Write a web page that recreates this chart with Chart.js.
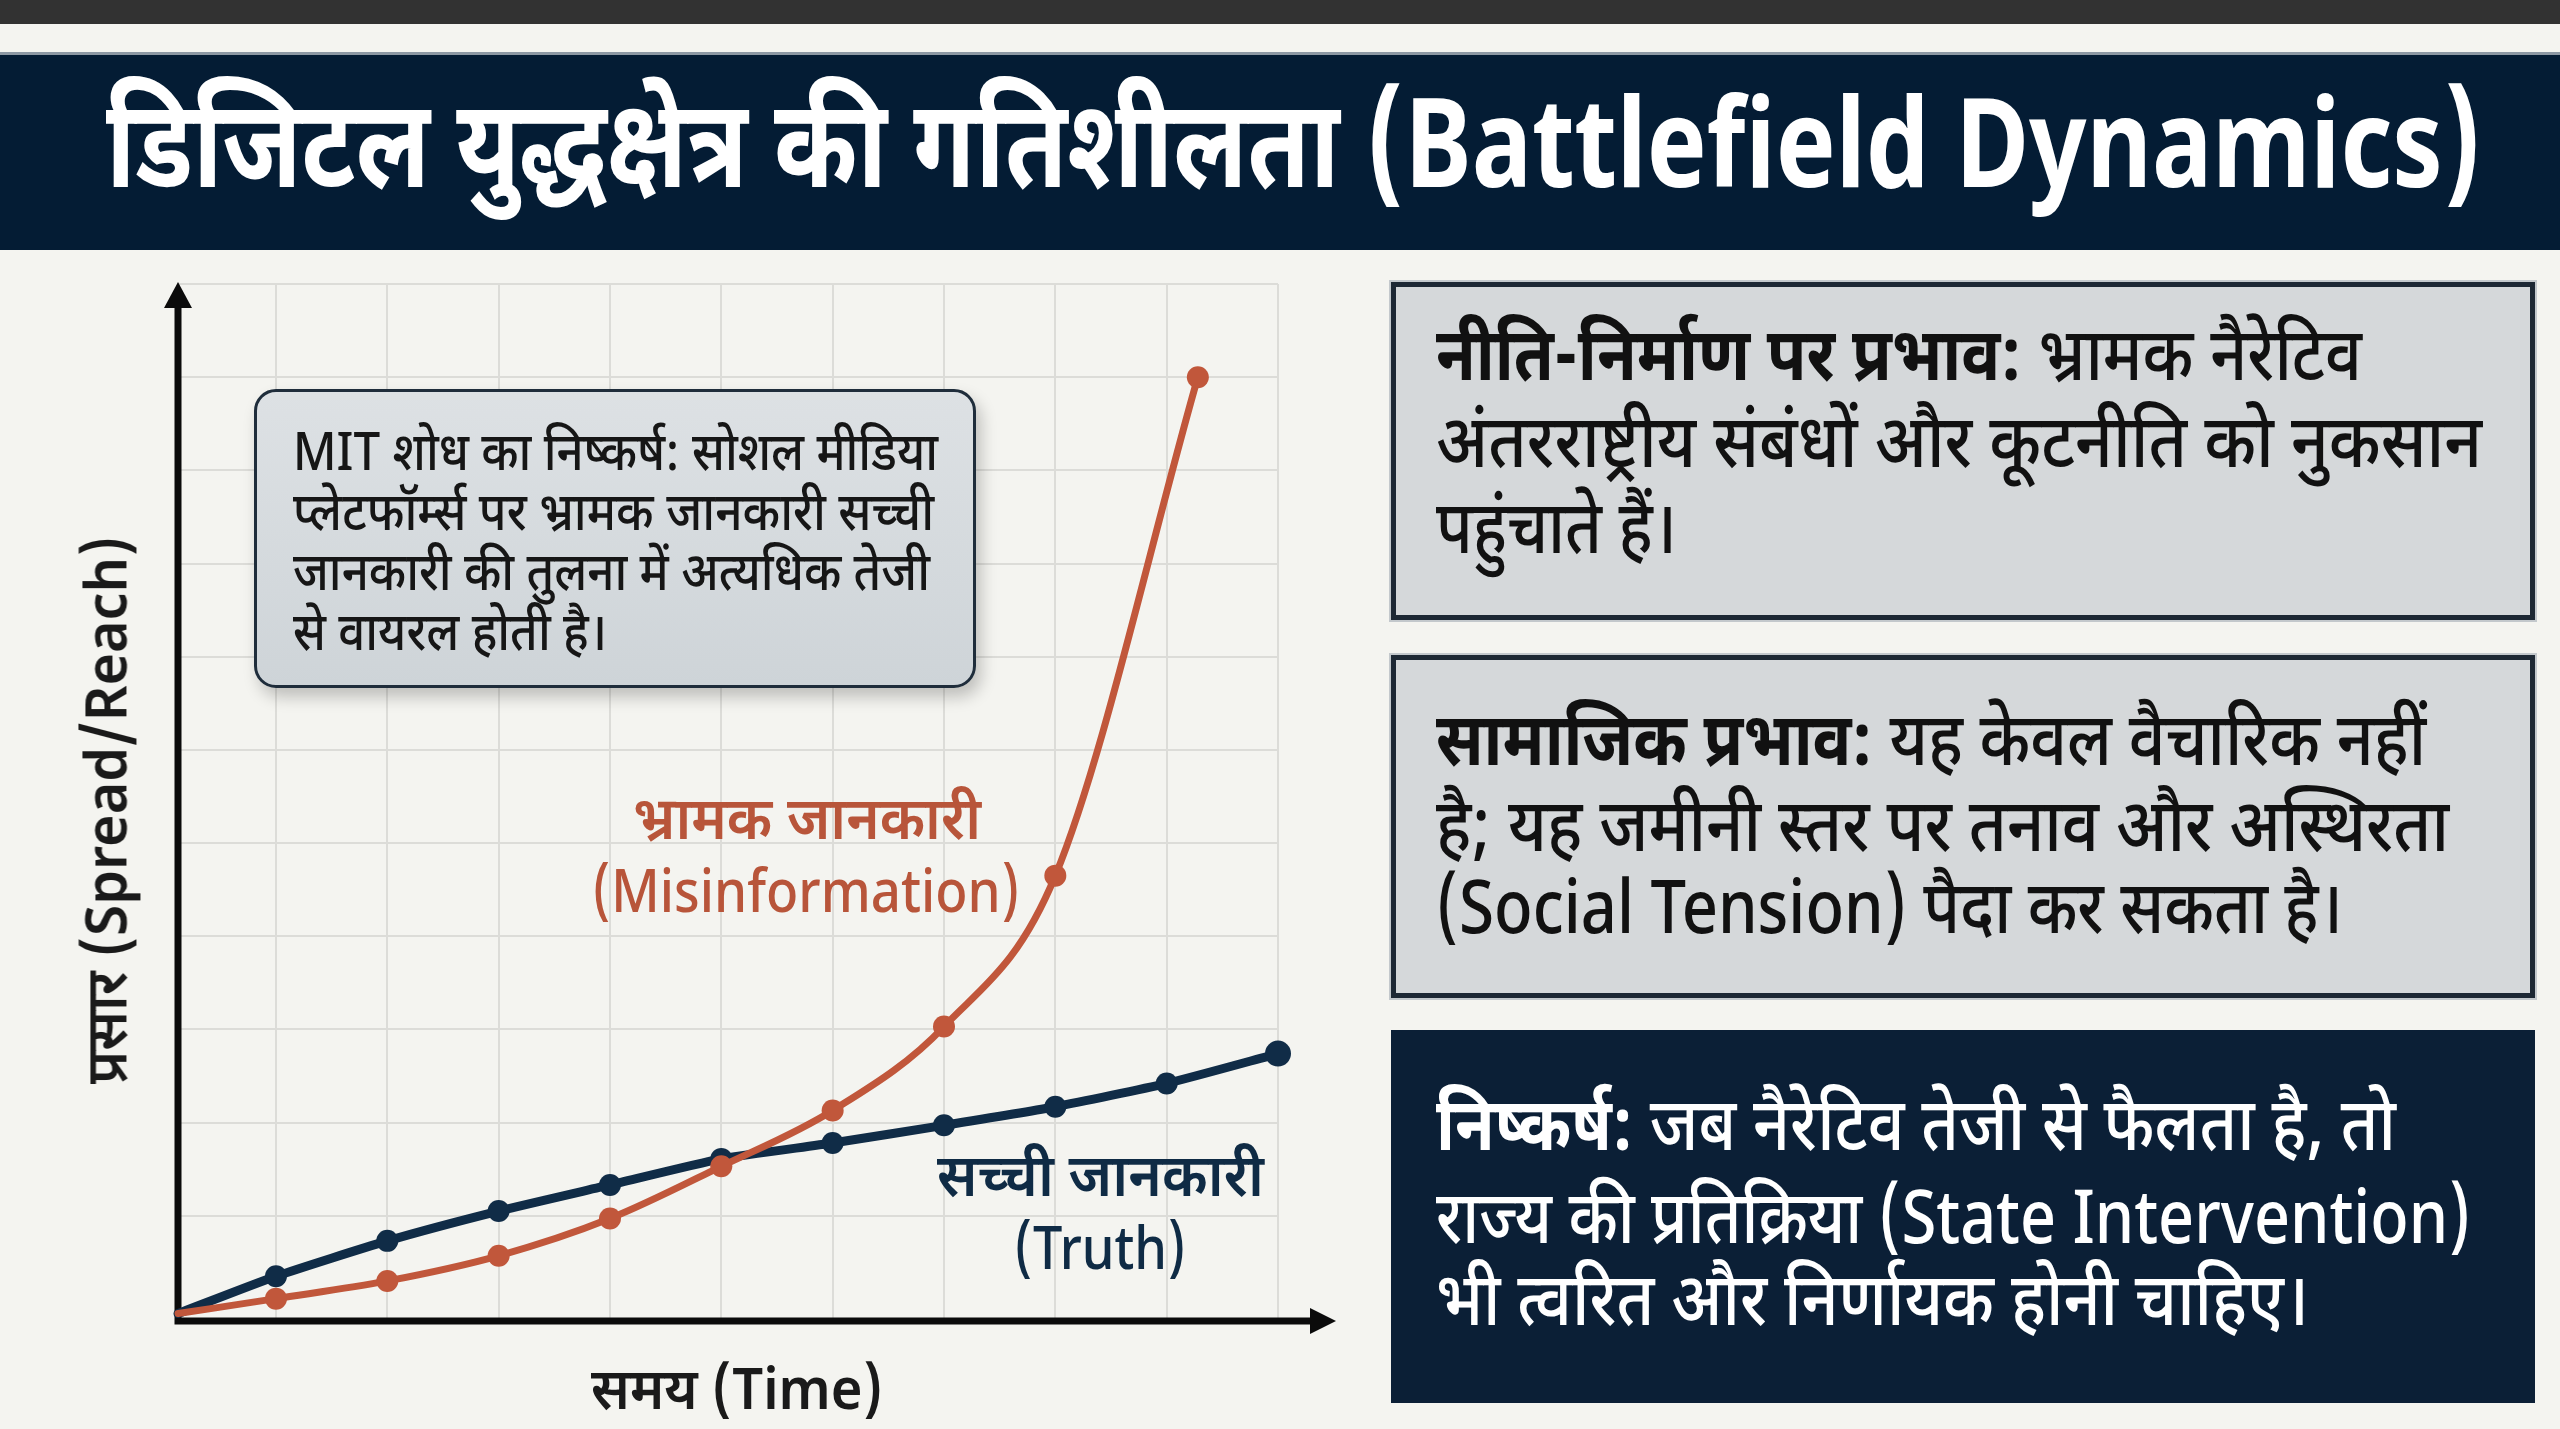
<!DOCTYPE html>
<html lang="hi">
<head>
<meta charset="utf-8">
<title>डिजिटल युद्धक्षेत्र की गतिशीलता</title>
<script src="https://cdn.jsdelivr.net/npm/chart.js@4.4.1/dist/chart.umd.min.js"></script>
<style>
  html, body { margin: 0; padding: 0; }
  body {
    width: 2560px; height: 1429px; position: relative; overflow: hidden;
    background: #f4f4f0;
    font-family: "Noto Sans Devanagari", "Noto Sans", sans-serif;
  }
  #topbar { position: absolute; left: 0; top: 0; width: 2560px; height: 24px; background: #323232; }
  #header { position: absolute; left: 0; top: 52px; width: 2560px; height: 198px; background: #041c34; border-top: 3px solid #8d98a3; box-sizing: border-box; }
  #chartWrap { position: absolute; left: 0; top: 260px; width: 1380px; height: 1169px; }
  .note {
    position: absolute; left: 254px; top: 389px; width: 722px; height: 299px; box-sizing: border-box;
    border: 3px solid #1f2d3b; border-radius: 22px;
    background: linear-gradient(180deg, #dde1e4 0%, #ced4d8 100%);
    box-shadow: 5px 9px 16px rgba(0,0,0,0.22);
  }
  .card { position: absolute; left: 1391px; width: 1144px; box-sizing: border-box; }
  .card.light { background: #d5d8da; border: 5px solid #1d2834; box-shadow: 0 0 0 2px #c3c8cc; }
  .card.dark { background: #0b1f36; }
  .txt { position: absolute; white-space: nowrap; line-height: 1; transform-origin: 0 50%; }
  .txt b { font-weight: 700; }
  .mk { display: inline-block; width: 0; height: 0; vertical-align: baseline; }
</style>
</head>
<body>
<div id="topbar"></div>
<div id="header"></div>
<div id="chartWrap"><canvas id="chart"></canvas></div>
<div class="note"></div>
<div class="card light" style="top:282px;height:338px"></div>
<div class="card light" style="top:655px;height:343px"></div>
<div class="card dark" style="top:1030px;height:373px"></div>

<script>
// ---- データ ----
const timeSteps = [0.12, 1, 2, 3, 4, 5, 6, 7, 8, 9, 10];
const truthReach = [-0.05, 0.35, 0.73, 1.05, 1.33, 1.61, 1.78, 1.97, 2.17, 2.42, 2.74];
const misinfoTime = [0.12, 1, 2, 3, 4, 5, 6, 7, 8, 9.28];
const misinfoReach = [-0.05, 0.11, 0.30, 0.57, 0.97, 1.53, 2.13, 3.03, 4.65, 10.0];

const gridTime = [1, 2, 3, 4, 5, 6, 7, 8, 9, 10];
const gridReach = [1, 2, 3, 4, 5, 6, 7, 8, 9, 10, 11];
const timeRange = [0.12, 10];
const reachRange = [-0.13, 11];

// ---- テキスト ----
const titleText = 'डिजिटल युद्धक्षेत्र की गतिशीलता (Battlefield Dynamics)';
const noteLines = [
    'MIT शोध का निष्कर्ष: सोशल मीडिया',
    'प्लेटफॉर्म्स पर भ्रामक जानकारी सच्ची',
    'जानकारी की तुलना में अत्यधिक तेजी',
    'से वायरल होती है।'
];
const misinfoLabel = ['भ्रामक जानकारी', '(Misinformation)'];
const truthLabel = ['सच्ची जानकारी', '(Truth)'];
const xTitle = 'समय (Time)';
const yTitle = 'प्रसार (Spread/Reach)';
const card1 = [['नीति-निर्माण पर प्रभाव:', ' भ्रामक नैरेटिव'], ['', 'अंतरराष्ट्रीय संबंधों और कूटनीति को नुकसान'], ['', 'पहुंचाते हैं।']];
const card2 = [['सामाजिक प्रभाव:', ' यह केवल वैचारिक नहीं'], ['', 'है; यह जमीनी स्तर पर तनाव और अस्थिरता'], ['', '(Social Tension) पैदा कर सकता है।']];
const card3 = [['निष्कर्ष:', ' जब नैरेटिव तेजी से फैलता है, तो'], ['', 'राज्य की प्रतिक्रिया (State Intervention)'], ['', 'भी त्वरित और निर्णायक होनी चाहिए।']];

const NAVY = '#102c47';
const RUST = '#c1573b';

// ---- テキスト配置 (ベースライン合わせ + 幅合わせ) ----
function placeText(html, o) {
    const el = document.createElement('div');
    el.className = 'txt';
    el.innerHTML = html + '<span class="mk"></span>';
    el.style.fontSize = o.fs + 'px';
    el.style.fontWeight = o.weight || 400;
    el.style.color = o.color || '#161616';
    document.body.appendChild(el);
    const mk = el.querySelector('.mk');
    const w = el.getBoundingClientRect().width;
    const s = o.w ? o.w / w : 1;
    const tw = w * s;
    el.style.top = (o.baseline - mk.offsetTop) + 'px';
    el.style.left = (o.align === 'center' ? o.x - tw / 2 : o.x) + 'px';
    el.style.transform = `scaleX(${s})`;
    return el;
}

function placeRotated(text, o) {
    const el = document.createElement('div');
    el.className = 'txt';
    el.textContent = text;
    el.style.fontSize = o.fs + 'px';
    el.style.fontWeight = o.weight || 400;
    el.style.color = o.color;
    el.style.transformOrigin = '50% 50%';
    document.body.appendChild(el);
    const r = el.getBoundingClientRect();
    const s = o.w / r.width;
    el.style.left = (o.cx - r.width / 2) + 'px';
    el.style.top = (o.cy - r.height / 2) + 'px';
    el.style.transform = `rotate(-90deg) scaleX(${s})`;
}

function placeCard(lines, baselines, widths, color) {
    lines.forEach((ln, i) => {
        const html = (ln[0] ? `<b>${ln[0]}</b>` : '') + ln[1];
        placeText(html, { x: 1436, baseline: baselines[i], w: widths[i], fs: 74, weight: 500, color });
    });
}

placeText(titleText, { x: 106, baseline: 187, w: 2376, fs: 124, weight: 700, color: '#ffffff' });

const noteBase = [470, 530, 590, 650];
const noteW = [645, 641, 637, 314];
noteLines.forEach((t, i) => placeText(t, { x: 293, baseline: noteBase[i], w: noteW[i], fs: 53, weight: 500, color: '#161616' }));

placeText(misinfoLabel[0], { x: 807, baseline: 839, w: 348, fs: 60, weight: 600, color: '#b8553a', align: 'center' });
placeText(misinfoLabel[1], { x: 806, baseline: 912, w: 428, fs: 60, weight: 500, color: '#b8553a', align: 'center' });
placeText(truthLabel[0], { x: 1100, baseline: 1196, w: 327, fs: 60, weight: 600, color: '#0f2b45', align: 'center' });
placeText(truthLabel[1], { x: 1100, baseline: 1269, w: 172, fs: 60, weight: 500, color: '#0f2b45', align: 'center' });

placeText(xTitle, { x: 737, baseline: 1409, w: 292, fs: 58, weight: 600, color: '#1a1a1a', align: 'center' });
placeRotated(yTitle, { cx: 112, cy: 810, w: 548, fs: 58, weight: 600, color: '#1a1a1a' });

placeCard(card1, [380, 467, 553], [926, 1046, 241], '#111111');
placeCard(card2, [765, 851, 933], [990, 1013, 907], '#111111');
placeCard(card3, [1150, 1243, 1325], [960, 1035, 873], '#ffffff');

// ---- 軸の矢印 ----
const axisArrows = {
    id: 'axisArrows',
    beforeDatasetsDraw(chart) {
        const { ctx, chartArea: a } = chart;
        const x0 = a.left, y0 = a.bottom;
        const xEnd = a.right + 58, yEnd = a.top - 2;
        ctx.save();
        ctx.strokeStyle = '#0b0b0b';
        ctx.fillStyle = '#0b0b0b';
        ctx.lineWidth = 7;
        ctx.beginPath();
        ctx.moveTo(x0, yEnd + 20);
        ctx.lineTo(x0, y0);
        ctx.lineTo(xEnd - 20, y0);
        ctx.stroke();
        ctx.beginPath();
        ctx.moveTo(x0, yEnd);
        ctx.lineTo(x0 - 14, yEnd + 26);
        ctx.lineTo(x0 + 14, yEnd + 26);
        ctx.closePath();
        ctx.fill();
        ctx.beginPath();
        ctx.moveTo(xEnd, y0);
        ctx.lineTo(xEnd - 26, y0 - 13);
        ctx.lineTo(xEnd - 26, y0 + 13);
        ctx.closePath();
        ctx.fill();
        ctx.restore();
    }
};

const toPoints = (xs, ys) => xs.map((x, i) => ({ x, y: ys[i] }));

new Chart(document.getElementById('chart'), {
    type: 'line',
    data: {
        datasets: [
            {
                label: 'भ्रामक जानकारी (Misinformation)',
                data: toPoints(misinfoTime, misinfoReach),
                borderColor: RUST,
                backgroundColor: RUST,
                borderWidth: 7,
                cubicInterpolationMode: 'monotone',
                pointRadius: c => c.dataIndex === 0 ? 0 : 11,
                pointBorderWidth: 0,
                clip: false,
                order: 1
            },
            {
                label: 'सच्ची जानकारी (Truth)',
                data: toPoints(timeSteps, truthReach),
                borderColor: NAVY,
                backgroundColor: NAVY,
                borderWidth: 9,
                tension: 0.2,
                pointRadius: c => c.dataIndex === 0 ? 0 : (c.dataIndex === timeSteps.length - 1 ? 13 : 11),
                pointBorderWidth: 0,
                clip: false,
                order: 2
            }
        ]
    },
    options: {
        responsive: true,
        maintainAspectRatio: false,
        devicePixelRatio: 1,
        animation: false,
        layout: { padding: { left: 178, top: 24, right: 102, bottom: 108 } },
        plugins: { legend: { display: false }, tooltip: { enabled: false } },
        elements: { line: { borderCapStyle: 'round', borderJoinStyle: 'round' } },
        scales: {
            x: {
                type: 'linear', min: timeRange[0], max: timeRange[1],
                afterBuildTicks: s => { s.ticks = gridTime.map(v => ({ value: v })); },
                ticks: { display: false },
                grid: { color: '#dcdcd8', lineWidth: 2, drawTicks: false },
                border: { display: false }
            },
            y: {
                type: 'linear', min: reachRange[0], max: reachRange[1],
                afterBuildTicks: s => { s.ticks = gridReach.map(v => ({ value: v })); },
                ticks: { display: false },
                grid: { color: '#dcdcd8', lineWidth: 2, drawTicks: false },
                border: { display: false }
            }
        }
    },
    plugins: [axisArrows]
});
</script>
</body>
</html>
